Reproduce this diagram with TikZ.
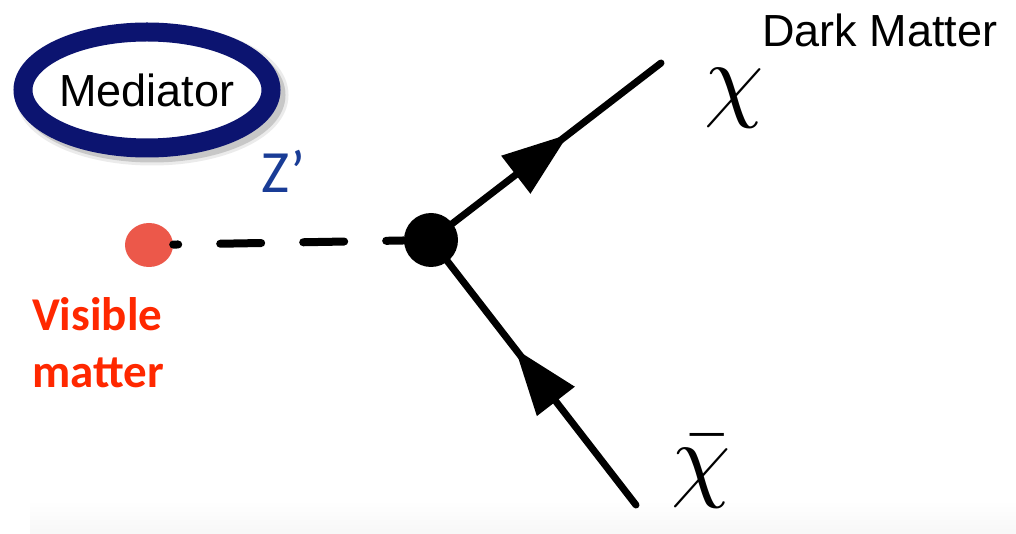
\documentclass[tikz,border=0pt]{standalone}
\usepackage{fontspec}
\usepackage{graphicx}
\setmainfont{Liberation Sans}
\newfontfamily\calibri{Carlito}
\usetikzlibrary{shapes.geometric,decorations.markings}
\definecolor{navy}{RGB}{12,20,112}
\definecolor{zblue}{RGB}{25,60,150}
\definecolor{visred}{RGB}{255,40,0}
\definecolor{dotred}{RGB}{236,88,74}
\begin{document}
\begin{tikzpicture}[x=1pt,y=-1pt,
  fermion/.style={line width=7pt, line cap=round},
  fermionarrow/.style={postaction={decorate},
    decoration={markings, mark=at position #1 with {\fill (0pt,0pt) -- (-66pt,24pt) -- (-66pt,-24pt) -- cycle;}}},
  scalar/.style={line width=8pt, line cap=round, dash pattern=on 41pt off 42pt, dash phase=36pt},
  vertexdot/.style={circle, fill=black, minimum size=54pt, inner sep=0pt},
  visdot/.style={ellipse, fill=dotred, minimum width=48pt, minimum height=44pt, inner sep=0pt},
  medellipse/.style={ellipse, draw=navy, line width=19pt, fill=white, minimum width=248pt, minimum height=116pt, inner sep=0pt, font=\fontsize{45}{54}\selectfont},
  lbl/.style={inner sep=0pt}
]
\useasboundingbox (0,0) rectangle (1016,534);
\fill[white] (0,0) rectangle (1016,534);
\shade[top color=white, bottom color=black!3] (30,500) rectangle (1016,534);

% mediator with soft shadow
\draw[black, opacity=0.08, line width=25pt] (152,95) ellipse [x radius=124pt, y radius=58pt];
\draw[black, opacity=0.15, line width=19pt] (152,95) ellipse [x radius=124pt, y radius=58pt];
\node[medellipse] (med) at (147,90) {Mediator};

\node[lbl, text=zblue, font=\calibri\fontsize{60}{62}\selectfont, anchor=base west] (zp) at (261,193) {Z’};

% propagator
\node[visdot] (dot) at (149,245) {};
\node[vertexdot] (vtx) at (431,240) {};
\draw[scalar] (dot) -- (vtx);

\coordinate (chiend) at (661,63);
\coordinate (barend) at (636,505);
\draw[fermion, fermionarrow=173pt] (vtx.center) -- (chiend);
\draw[fermion, fermionarrow=197pt] (barend) -- (vtx.center);

\node[lbl, font=\fontsize{45}{54}\selectfont, anchor=base west] (dm) at (762,47) {Dark Matter};
\node[lbl, anchor=base] (chi) at (734,110) {\scalebox{9.5}{$\chi$}};
\node[lbl, anchor=base] (chibar) at (701,489) {\scalebox{9.5}{$\skew{2.5}{\bar}{\chi}$}};

\node[lbl, text=visred, align=left, anchor=north west, font=\calibri\bfseries\fontsize{47}{57}\selectfont] (vis) at (32,297) {Visible\\matter};
\end{tikzpicture}
\end{document}
